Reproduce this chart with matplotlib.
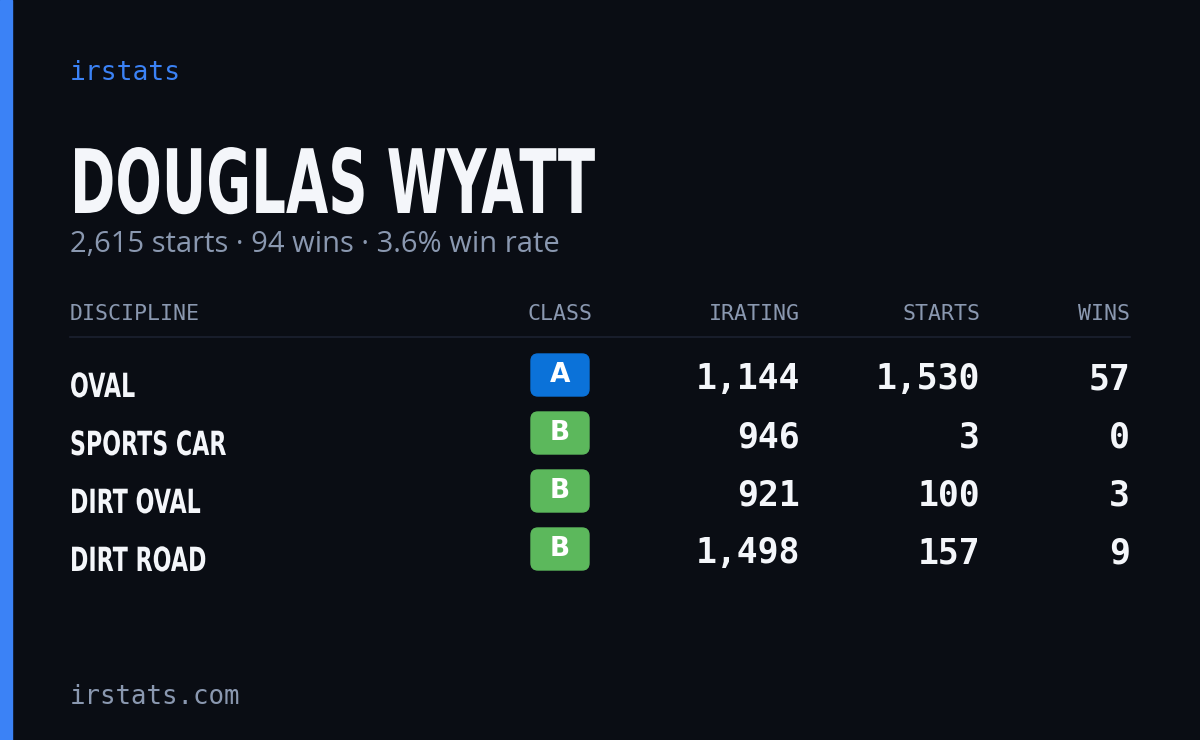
import matplotlib
matplotlib.use("Agg")
import matplotlib.pyplot as plt
from matplotlib.patches import FancyBboxPatch, Rectangle, PathPatch
from matplotlib.textpath import TextPath
from matplotlib.font_manager import FontProperties
from matplotlib.transforms import Affine2D

driver = "DOUGLAS WYATT"
summary = "2,615 starts · 94 wins · 3.6% win rate"
disciplines = ["OVAL", "SPORTS CAR", "DIRT OVAL", "DIRT ROAD"]
classes = ["A", "B", "B", "B"]
iratings = [1144, 946, 921, 1498]
starts = [1530, 3, 100, 157]
wins = [57, 0, 3, 9]
headers = ["DISCIPLINE", "CLASS", "IRATING", "STARTS", "WINS"]

bg = "#0a0d14"
muted = "#8a98b0"
white = "#f4f6fa"
class_colors = {"A": "#0b72d9", "B": "#5cb85c"}

fig = plt.figure(figsize=(12, 7.4), dpi=100, facecolor=bg)
ax = fig.add_axes([0, 0, 1, 1])
ax.set_xlim(0, 1200)
ax.set_ylim(740, 0)
ax.axis("off")

ax.add_patch(Rectangle((0, 0), 12, 740, color="#3b82f6"))

mono = "DejaVu Sans Mono"
boldfp = FontProperties(family="DejaVu Sans", weight="bold")


def condensed(x, y, s, size, sx=0.7):
    # squeeze bold text horizontally, y is the baseline in pixels
    k = 100 / 72
    tp = TextPath((0, 0), s, size=size, prop=boldfp)
    tr = Affine2D().scale(sx * k, -k).translate(x, y)
    ax.add_patch(PathPatch(tr.transform_path(tp), color=white, lw=0))


ax.text(70, 73, "irstats", color="#3b82f6", fontsize=19, family=mono, va="center")
condensed(70, 213, driver, 64, 0.615)
ax.text(70, 245, summary, color=muted, fontsize=21, family="Open Sans", va="center")

hx = [70, 560, 800, 980, 1130]
ha = ["left", "center", "right", "right", "right"]
for x, h, a in zip(hx, headers, ha):
    ax.text(x, 314, h, color=muted, fontsize=15.5, family=mono, ha=a, va="center")
ax.plot([70, 1130], [337, 337], color="#1c2130", lw=1.2)

for i, name in enumerate(disciplines):
    y = 379 + 58 * i
    condensed(70, y + 18, name, 24, 0.665)
    ax.add_patch(FancyBboxPatch((531, y - 25), 58, 42, boxstyle="round,pad=0,rounding_size=7",
                                color=class_colors[classes[i]]))
    ax.text(560, y - 4, classes[i], color="white", fontsize=19, weight="bold",
            ha="center", va="center")
    for x, v in zip(hx[2:], [iratings[i], starts[i], wins[i]]):
        ax.text(x, y, f"{v:,}", color=white, fontsize=25, family=mono, weight="bold",
                ha="right", va="center")

ax.text(70, 697, "irstats.com", color=muted, fontsize=18.5, family=mono, va="center")

fig.savefig("out.png", dpi=100, facecolor=bg)
